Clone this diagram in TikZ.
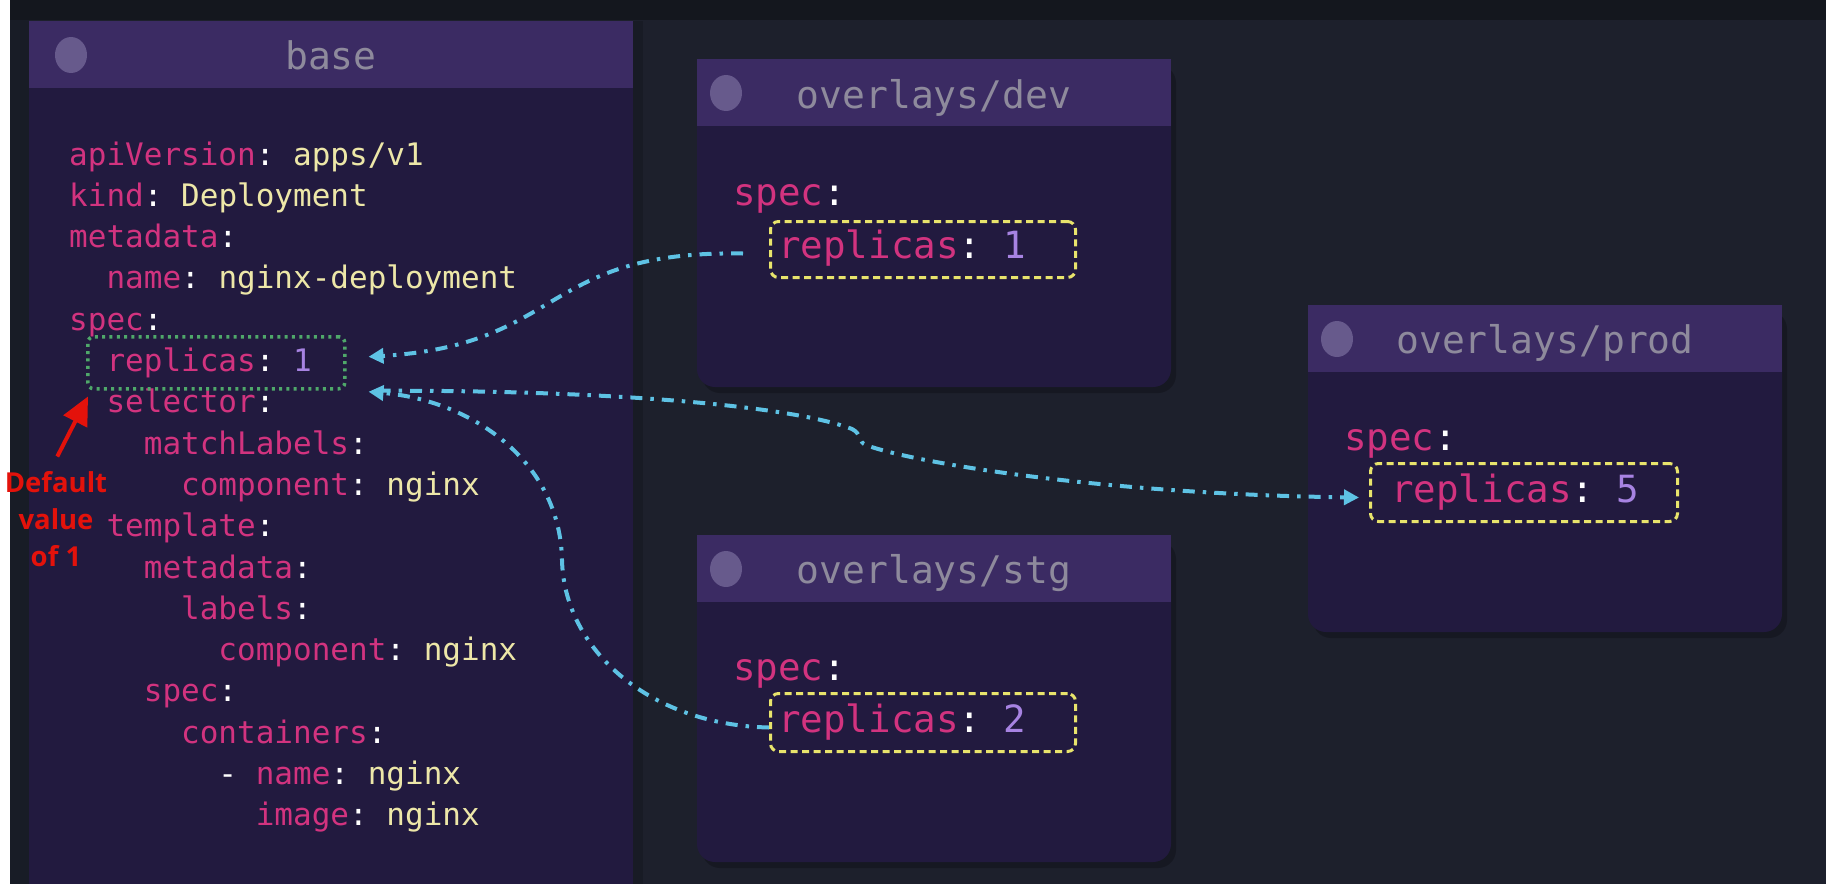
\documentclass[tikz,border=0pt]{standalone}
\usepackage{fontspec}
\setmonofont{DejaVu Sans Mono}
\newfontfamily\annfont{Open Sans}
\usetikzlibrary{arrows.meta,calc}
\definecolor{bgc}{HTML}{1D202C}
\definecolor{topc}{HTML}{14171E}
\definecolor{sidec}{HTML}{181C26}
\definecolor{hdrc}{HTML}{3B2B63}
\definecolor{bodyc}{HTML}{221A3F}
\definecolor{dotc}{HTML}{675A8C}
\definecolor{titc}{HTML}{8E8A9C}
\definecolor{keyc}{HTML}{D2337F}
\definecolor{valc}{HTML}{EDE7A8}
\definecolor{numc}{HTML}{A783E2}
\definecolor{conc}{HTML}{5EC2E4}
\definecolor{grnc}{HTML}{4FA86A}
\definecolor{yelc}{HTML}{E8E46C}
\definecolor{redc}{HTML}{E3120B}
\newcommand\yk[1]{\textcolor{keyc}{#1}}
\newcommand\yv[1]{\textcolor{valc}{#1}}
\newcommand\yn[1]{\textcolor{numc}{#1}}
\newcommand\yc{\textcolor{white}{:}}
\newcommand\yd{\textcolor{white}{-}}
\tikzset{
 code/.style={inner sep=0pt, anchor=base west, font=\ttfamily\fontsize{31}{31}\selectfont},
 bigcode/.style={inner sep=0pt, anchor=base west, font=\ttfamily\fontsize{37.5}{37.5}\selectfont},
 title/.style={inner sep=0pt, anchor=base, text=titc, font=\ttfamily\fontsize{38}{38}\selectfont},
 ybox/.style={draw=yelc, line width=3pt, dash pattern=on 7pt off 4.5pt, rounded corners=8pt, inner sep=0pt, anchor=north west},
 gbox/.style={draw=grnc, line width=3.5pt, dash pattern=on 3pt off 4.3pt, rounded corners=6pt, inner sep=0pt, anchor=north west},
 conn/.style={draw=conc, line width=4pt, dash pattern=on 12pt off 8pt on 3.5pt off 8pt, -{Triangle[length=15pt,width=15pt]}},
 note/.style={inner sep=0pt, anchor=base, text=redc, font=\annfont\bfseries\fontsize{27.5}{27.5}\selectfont},
 redarrow/.style={draw=redc, line width=4pt, shorten <=16pt, -{Triangle[length=28pt,width=26pt]}},
}
\newcommand\drawpanel[4]{%
 \fill[black, opacity=0.22, rounded corners=18pt] (#1+5,#2+6) rectangle (#3+5,#4+6);
 \fill[bodyc, rounded corners=18pt] (#1,#2) rectangle (#3,#4);
 \fill[hdrc] (#1,#2) rectangle (#3,#2+67);
 \fill[dotc] (#1+29,#2+34) ellipse [x radius=16pt, y radius=18pt];
}
\newcommand\yl[4]{\node[code] (#1) at ({69+#2*18.66},{165+#3*41.3}) {#4};}
\begin{document}
\begin{tikzpicture}[x=1pt,y=-1pt]
\useasboundingbox (0,0) rectangle (1826,884);
\fill[bgc] (0,0) rectangle (1826,884);
\fill[topc] (0,0) rectangle (1826,20);
\fill[sidec] (10,20) rectangle (29,884);
\fill[white] (0,0) rectangle (10,884);
% base panel
\fill[black, opacity=0.15] (633,21) rectangle (643,884);
\fill[bodyc] (29,21) rectangle (633,884);
\fill[hdrc] (29,21) rectangle (633,88);
\fill[dotc] (71,55) ellipse [x radius=16pt, y radius=18pt];
\node[title] (tbase) at (331,69) {base};
% overlay panels
\drawpanel{697}{59}{1171}{387}
\drawpanel{697}{535}{1171}{862}
\drawpanel{1308}{305}{1782}{632}
\node[title] (tdev) at (934,108) {overlays/dev};
\node[title] (tstg) at (934,583) {overlays/stg};
\node[title] (tprod) at (1545,353) {overlays/prod};
% base code
\yl{l0}{0}{0}{\yk{apiVersion}\yc{} \yv{apps/v1}}
\yl{l1}{0}{1}{\yk{kind}\yc{} \yv{Deployment}}
\yl{l2}{0}{2}{\yk{metadata}\yc}
\yl{l3}{2}{3}{\yk{name}\yc{} \yv{nginx-deployment}}
\yl{l4}{0}{4}{\yk{spec}\yc}
\yl{l5}{2}{5}{\yk{replicas}\yc{} \yn{1}}
\yl{l6}{2}{6}{\yk{selector}\yc}
\yl{l7}{4}{7}{\yk{matchLabels}\yc}
\yl{l8}{6}{8}{\yk{component}\yc{} \yv{nginx}}
\yl{l9}{2}{9}{\yk{template}\yc}
\yl{l10}{4}{10}{\yk{metadata}\yc}
\yl{l11}{6}{11}{\yk{labels}\yc}
\yl{l12}{8}{12}{\yk{component}\yc{} \yv{nginx}}
\yl{l13}{4}{13}{\yk{spec}\yc}
\yl{l14}{6}{14}{\yk{containers}\yc}
\yl{l15}{8}{15}{\yd{} \yk{name}\yc{} \yv{nginx}}
\yl{l16}{10}{16}{\yk{image}\yc{} \yv{nginx}}
\node[gbox, minimum width=257pt, minimum height=52pt] (basebox) at (86,335) {};
% overlay code
\node[bigcode] (devspec) at (733,205) {\yk{spec}\yc};
\node[bigcode] (devrep) at (778,258) {\yk{replicas}\yc{} \yn{1}};
\node[ybox, minimum width=305pt, minimum height=56pt] (devbox) at (769,220) {};
\node[bigcode] (stgspec) at (733,680) {\yk{spec}\yc};
\node[bigcode] (stgrep) at (778,732) {\yk{replicas}\yc{} \yn{2}};
\node[ybox, minimum width=305pt, minimum height=58pt] (stgbox) at (769,692) {};
\node[bigcode] (prodspec) at (1344,450) {\yk{spec}\yc};
\node[bigcode] (prodrep) at (1391,502) {\yk{replicas}\yc{} \yn{5}};
\node[ybox, minimum width=307pt, minimum height=58pt] (prodbox) at (1369,462) {};
% connectors
\draw[conn] ([xshift=-26pt,yshift=-4pt]devbox.west) .. controls (540,250) and (565,345) .. ([xshift=22pt,yshift=6pt]basebox.east);
\draw[conn] ([yshift=-5pt]stgbox.west) .. controls (650,725) and (564,650) .. (562,560) .. controls (560,460) and (470,400) .. ([xshift=22pt,yshift=-29pt]basebox.east);
\draw[conn] ([xshift=32pt,yshift=-28pt]basebox.east) .. controls (600,390) and (790,405) .. (852,429) .. controls (862,434) and (858,442) .. (866,445) .. controls (910,462) and (1100,494) .. ([xshift=-10pt,yshift=-5pt]prodbox.west);
% annotation
\node[note] (note1) at (56,492) {Default};
\node[note] (note2) at (56,529) {value};
\node[note] (note3) at (56,566) {of 1};
\draw[redarrow] ([xshift=-6pt]note1.north) -- ([xshift=2pt,yshift=-6pt]basebox.south west);
\end{tikzpicture}
\end{document}
